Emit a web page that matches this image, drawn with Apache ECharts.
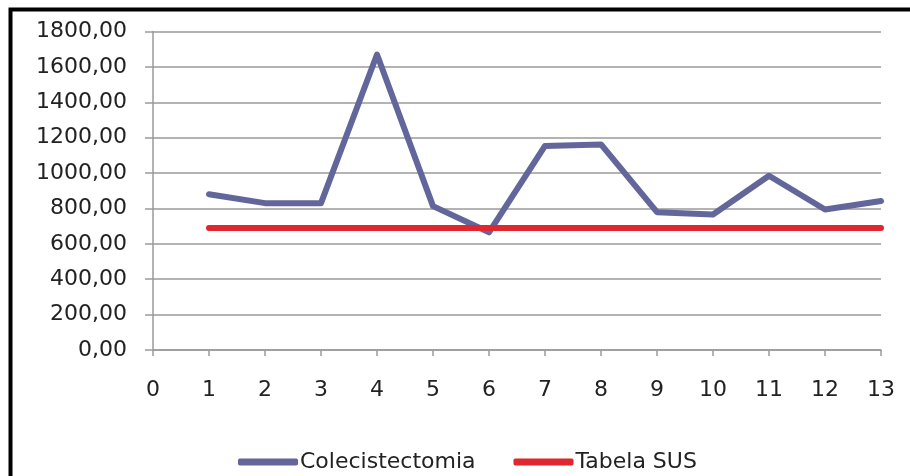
<!DOCTYPE html>
<html>
<head>
<meta charset="utf-8">
<script src="https://cdn.jsdelivr.net/npm/echarts@6/dist/echarts.min.js"></script>
<style>
html,body{margin:0;padding:0;background:#fff;}
#c{width:910px;height:476px;}
</style>
</head>
<body>
<div id="c"></div>
<script>
const xValues = [1, 2, 3, 4, 5, 6, 7, 8, 9, 10, 11, 12, 13];
const colecistectomia = [880, 830, 830, 1670, 813, 665, 1153, 1162, 779, 766, 985, 794, 842];
const tabelaSUS = [690, 690, 690, 690, 690, 690, 690, 690, 690, 690, 690, 690, 690];
const seriesNames = ['Colecistectomia', 'Tabela SUS'];

const font = 'DejaVu Sans';
const chart = echarts.init(document.getElementById('c'));
chart.setOption({
  animation: false,
  backgroundColor: '#ffffff',
  graphic: [{
    type: 'rect', left: 8, top: 7, silent: true,
    shape: { width: 1000, height: 1000 },
    style: { fill: 'none', stroke: '#000', lineWidth: 4 }
  }],
  grid: { left: 153, right: 29, top: 31.5, bottom: 126, containLabel: false },
  legend: {
    left: 233, bottom: -2,
    itemWidth: 60, itemHeight: 7, itemGap: 38,
    icon: 'roundRect',
    textStyle: { fontFamily: font, fontSize: 22, color: '#222', padding: [0,0,0,-3] },
    data: seriesNames
  },
  xAxis: {
    type: 'value', min: 0, max: 13, interval: 1,
    axisLine: { show: true, lineStyle: { color: '#9a9a9a', width: 1.5 } },
    axisTick: { show: true, length: 6, lineStyle: { color: '#9a9a9a', width: 1.5 } },
    splitLine: { show: false },
    axisLabel: { margin: 29, fontFamily: font, fontSize: 22, color: '#222' }
  },
  yAxis: {
    type: 'value', min: 0, max: 1800, interval: 200,
    axisLine: { show: true, lineStyle: { color: '#9a9a9a', width: 1.5 } },
    axisTick: { show: true, length: 8, lineStyle: { color: '#9a9a9a', width: 1.5 } },
    splitLine: { show: true, lineStyle: { color: '#9a9a9a', width: 1.5 } },
    axisLabel: {
      margin: 26, fontFamily: font, fontSize: 22, color: '#222',
      formatter: v => v.toFixed(2).replace('.', ',')
    }
  },
  series: [
    {
      name: seriesNames[0], type: 'line', symbol: 'none',
      data: xValues.map((x, i) => [x, colecistectomia[i]]),
      lineStyle: { color: '#63669b', width: 6, cap: 'round', join: 'round' },
      itemStyle: { color: '#63669b' }
    },
    {
      name: seriesNames[1], type: 'line', symbol: 'none',
      data: xValues.map((x, i) => [x, tabelaSUS[i]]),
      lineStyle: { color: '#e0262f', width: 6, cap: 'round' },
      itemStyle: { color: '#e0262f' }
    }
  ]
});
</script>
</body>
</html>
